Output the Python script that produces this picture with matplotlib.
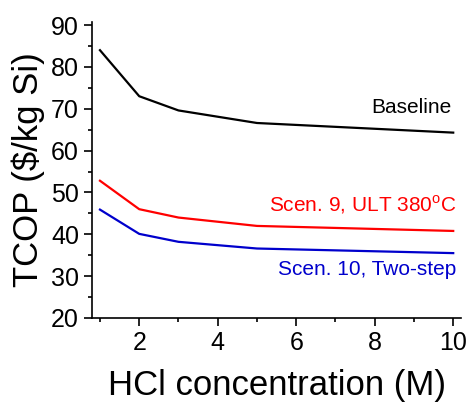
import matplotlib.pyplot as plt
from matplotlib.ticker import MultipleLocator

plt.rcParams['font.family'] = ['Liberation Sans', 'DejaVu Sans']
plt.rcParams['mathtext.fontset'] = 'custom'
plt.rcParams['mathtext.rm'] = 'Liberation Sans'

hcl = [1, 2, 3, 5, 10]
baseline = [84.0, 73.0, 69.6, 66.6, 64.3]
scen9 = [52.8, 46.0, 44.0, 42.0, 40.8]
scen10 = [45.9, 40.1, 38.2, 36.6, 35.5]

fig = plt.figure(figsize=(4.7, 4.03), dpi=100)
ax = fig.add_axes([0.196, 0.211, 0.785, 0.734])

ax.plot(hcl, baseline, color='black', lw=1.6)
ax.plot(hcl, scen9, color='#ff0000', lw=1.6)
ax.plot(hcl, scen10, color='#0000cc', lw=1.6)

ax.text(9.95, 70.3, 'Baseline', ha='right', va='center', fontsize=15, color='black')
ax.text(10.08, 47.0, r'Scen. 9, ULT 380$^{\mathrm{o}}$C', ha='right', va='center',
        fontsize=15, color='#ff0000')
ax.text(10.08, 31.7, 'Scen. 10, Two-step', ha='right', va='center',
        fontsize=15, color='#0000cc')

ax.set_xlim(0.8, 10.2)
ax.set_ylim(20, 90.7)
ax.xaxis.set_major_locator(MultipleLocator(2))
ax.xaxis.set_minor_locator(MultipleLocator(1))
ax.yaxis.set_major_locator(MultipleLocator(10))
ax.yaxis.set_minor_locator(MultipleLocator(5))
ax.tick_params(which='major', direction='out', length=6, width=1.2, labelsize=18)
ax.tick_params(which='minor', direction='out', length=3, width=1.2)
ax.spines['right'].set_color('none')
ax.spines['top'].set_color('none')
ax.spines['left'].set_linewidth(1.2)
ax.spines['bottom'].set_linewidth(1.2)

ax.set_xlabel('HCl concentration (M)', fontsize=25, labelpad=10)
ax.set_ylabel('TCOP ($/kg Si)', fontsize=25, labelpad=4)

plt.savefig('out.png', dpi=100)
